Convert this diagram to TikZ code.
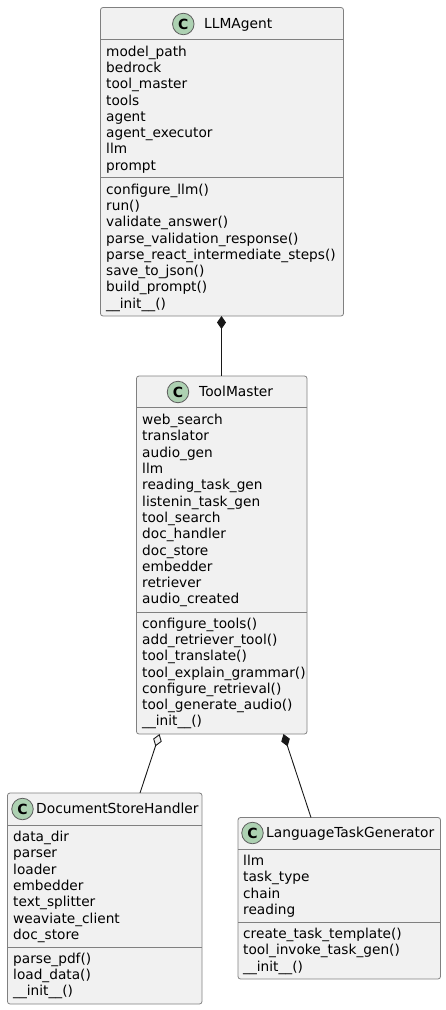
\documentclass[tikz,border=0pt]{standalone}
\usepackage{fontspec}
\setmainfont{DejaVu Sans}
\usetikzlibrary{arrows.meta}
\definecolor{boxfill}{HTML}{F1F1F1}
\definecolor{boxline}{HTML}{808080}
\definecolor{badgefill}{HTML}{ADD1B2}
\definecolor{inkdark}{HTML}{181818}
\tikzset{
  classbox/.style={draw=boxline,fill=boxfill,rounded corners=2.5,line width=.8,inner sep=0,outer sep=0},
  sepline/.style={draw=boxline,line width=.8},
  badge/.style={circle,draw=inkdark!70!white,fill=badgefill,line width=.8,minimum size=21.5,inner sep=0,font=\fontsize{14}{14}\selectfont\bfseries},
  classname/.style={anchor=base west,inner sep=0,text=black,font=\fontsize{13.8}{14}\selectfont},
  members/.style={anchor=north west,inner sep=0,align=left,text=black,font=\fontsize{13.7}{16.3}\selectfont},
  link/.style={draw=inkdark,line width=.9},
  filledlink/.style={link,{Diamond[length=13,width=9,fill=inkdark]}-},
  hollowlink/.style={link,{Diamond[length=13,width=9,open,fill=boxfill]}-}
}
\begin{document}
\begin{tikzpicture}[x=1pt,y=-1pt]
   \useasboundingbox (0,0) rectangle (446,1010);

   % LLMAgent
   \node[classbox,minimum width=243,minimum height=308.5] (agent) at (222,161.75) {};
   \draw[sepline] (100.5,39) -- (343.5,39);
   \draw[sepline] (100.5,177) -- (343.5,177);
   \node[badge] (agentbadge) at (183.3,24) {C};
   \node[classname] (agentname) at (204,28.5) {LLMAgent};
   \node[members] (agentattrs) at (106,45.5) {model\_path\\bedrock\\tool\_master\\tools\\agent\\agent\_executor\\llm\\prompt};
   \node[members] (agentops) at (106,183.5) {configure\_llm()\\run()\\validate\_answer()\\parse\_validation\_response()\\parse\_react\_intermediate\_steps()\\save\_to\_json()\\build\_prompt()\\\_\_init\_\_()};

   % ToolMaster
   \node[classbox,minimum width=170.5,minimum height=358] (master) at (221.75,555) {};
   \draw[sepline] (136.5,407.5) -- (307,407.5);
   \draw[sepline] (136.5,612) -- (307,612);
   \node[badge] (masterbadge) at (178,392) {C};
   \node[classname] (mastername) at (199,396.5) {ToolMaster};
   \node[members] (masterattrs) at (142,414) {web\_search\\translator\\audio\_gen\\llm\\reading\_task\_gen\\listenin\_task\_gen\\tool\_search\\doc\_handler\\doc\_store\\embedder\\retriever\\audio\_created};
   \node[members] (masterops) at (142,617.5) {configure\_tools()\\add\_retriever\_tool()\\tool\_translate()\\tool\_explain\_grammar()\\configure\_retrieval()\\tool\_generate\_audio()\\\_\_init\_\_()};

   % DocumentStoreHandler
   \node[classbox,minimum width=194.5,minimum height=211] (handler) at (104.75,898.5) {};
   \draw[sepline] (7.5,825) -- (202,825);
   \draw[sepline] (7.5,947) -- (202,947);
   \node[badge] (handlerbadge) at (22.5,809) {C};
   \node[classname] (handlername) at (36,813.5) {DocumentStoreHandler};
   \node[members] (handlerattrs) at (13,831) {data\_dir\\parser\\loader\\embedder\\text\_splitter\\weaviate\_client\\doc\_store};
   \node[members] (handlerops) at (13,952.5) {parse\_pdf()\\load\_data()\\\_\_init\_\_()};

   % LanguageTaskGenerator
   \node[classbox,minimum width=202.5,minimum height=161.5] (generator) at (339.25,898.25) {};
   \draw[sepline] (238,849) -- (440.5,849);
   \draw[sepline] (238,922) -- (440.5,922);
   \node[badge] (generatorbadge) at (252.5,833) {C};
   \node[classname] (generatorname) at (266,837.5) {LanguageTaskGenerator};
   \node[members] (generatorattrs) at (243,855) {llm\\task\_type\\chain\\reading};
   \node[members] (generatorops) at (243,928) {create\_task\_template()\\tool\_invoke\_task\_gen()\\\_\_init\_\_()};

   % links
   \draw[filledlink] ([xshift=-.5]agent.south) -- ([xshift=-.25]master.north);
   \draw[hollowlink] ([xshift=23]master.south west) -- ([xshift=132.5]handler.north west);
   \draw[filledlink] ([xshift=147]master.south west) -- ([xshift=73]generator.north west);
 \end{tikzpicture}
\end{document}
